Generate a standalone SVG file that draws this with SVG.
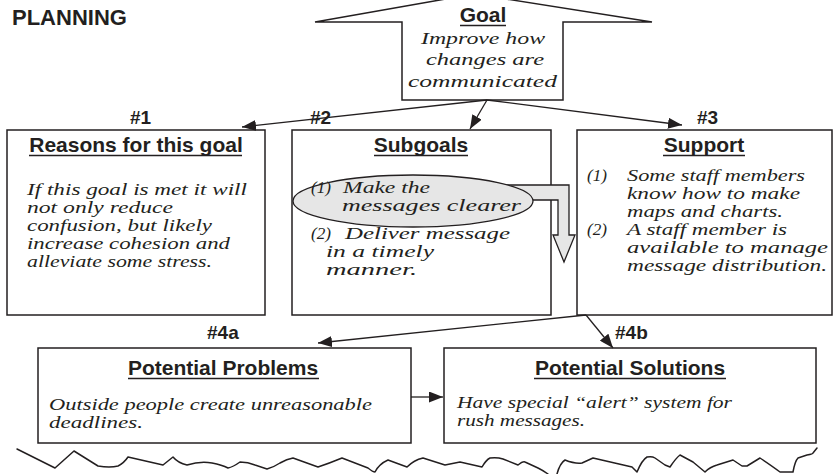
<svg xmlns="http://www.w3.org/2000/svg" width="834" height="474" viewBox="0 0 834 474">
  <style>
    .box { fill: #ffffff; stroke: #231f20; stroke-width: 1.5; }
    .title { font-family: "Liberation Sans", Arial, sans-serif; font-weight: bold; font-size: 22px; fill: #231f20; }
    .hdr { font-family: "Liberation Sans", Arial, sans-serif; font-weight: bold; font-size: 21px; fill: #231f20; text-anchor: middle; }
    .num { font-family: "Liberation Sans", Arial, sans-serif; font-weight: bold; font-size: 19px; fill: #231f20; }
    .ul { stroke: #231f20; stroke-width: 1.6; }
    .hand { font-family: "Liberation Serif", "DejaVu Serif", serif; font-style: italic; font-size: 16px; fill: #231f20; }
    .conn { stroke: #231f20; stroke-width: 1.3; fill: none; }
    .edge { stroke: #231f20; stroke-width: 1.5; fill: none; stroke-linejoin: round; stroke-linecap: round; }
    .shade { fill: #e6e6e6; stroke: #231f20; stroke-width: 1.3; }
  </style>
  <defs>
    <marker id="arrow" markerUnits="userSpaceOnUse" markerWidth="14" markerHeight="11" refX="14" refY="5.5" orient="auto">
      <path d="M0,0 L14,5.5 L0,11 Z" fill="#231f20"/>
    </marker>
  </defs>

  <rect width="834" height="474" fill="#ffffff"/>

  <text class="title" x="12" y="25">PLANNING</text>

  <!-- goal: house-shaped banner -->
  <g id="goal">
    <path class="box" d="M315,22 L474,-6 L652,22 L563,22 L563,100 L402,100 L402,22 Z"/>
    <text class="hdr" x="483" y="22" font-size="20">Goal</text>
    <line class="ul" x1="460" y1="25.5" x2="506" y2="25.5"/>
    <text class="hand" x="421" y="44" font-size="18.5" textLength="124" lengthAdjust="spacingAndGlyphs">Improve how</text>
    <text class="hand" x="426" y="65" font-size="18.5" textLength="118" lengthAdjust="spacingAndGlyphs">changes are</text>
    <text class="hand" x="408" y="87" font-size="18.5" textLength="149" lengthAdjust="spacingAndGlyphs">communicated</text>
  </g>

  <!-- #1 reasons -->
  <g id="reasons">
    <text class="num" x="130" y="124">#1</text>
    <rect class="box" x="7" y="130" width="258" height="185"/>
    <text class="hdr" x="136" y="152">Reasons for this goal</text>
    <line class="ul" x1="29" y1="155.5" x2="242" y2="155.5"/>
    <text class="hand" x="27" y="195" textLength="220" lengthAdjust="spacingAndGlyphs">If this goal is met it will</text>
    <text class="hand" x="27" y="213" textLength="146" lengthAdjust="spacingAndGlyphs">not only reduce</text>
    <text class="hand" x="27" y="231" textLength="185" lengthAdjust="spacingAndGlyphs">confusion, but likely</text>
    <text class="hand" x="27" y="249" textLength="203" lengthAdjust="spacingAndGlyphs">increase cohesion and</text>
    <text class="hand" x="27" y="267" textLength="185" lengthAdjust="spacingAndGlyphs">alleviate some stress.</text>
  </g>

  <!-- #2 subgoals -->
  <g id="subgoals">
    <text class="num" x="310" y="124">#2</text>
    <rect class="box" x="292" y="130" width="259" height="185"/>
    <text class="hdr" x="421" y="152">Subgoals</text>
    <line class="ul" x1="374" y1="155.5" x2="468" y2="155.5"/>
    <!-- block arrow leading out of the first subgoal -->
    <path class="shade" d="M500,185 L569,185 L569,235 L575,235 L564,262 L553,235 L558,235 L558,200 L500,200 Z"/>
    <ellipse class="shade" cx="413" cy="201" rx="120" ry="26"/>
    <text class="hand" x="311" y="193" textLength="20" lengthAdjust="spacingAndGlyphs">(1)</text>
    <text class="hand" x="343" y="193" textLength="87" lengthAdjust="spacingAndGlyphs">Make the</text>
    <text class="hand" x="342" y="211" textLength="179" lengthAdjust="spacingAndGlyphs">messages clearer</text>
    <text class="hand" x="311" y="239" textLength="20" lengthAdjust="spacingAndGlyphs">(2)</text>
    <text class="hand" x="345" y="239" textLength="165" lengthAdjust="spacingAndGlyphs">Deliver message</text>
    <text class="hand" x="326" y="257" textLength="108" lengthAdjust="spacingAndGlyphs">in a timely</text>
    <text class="hand" x="326" y="275" textLength="91" lengthAdjust="spacingAndGlyphs">manner.</text>
  </g>

  <!-- #3 support -->
  <g id="support">
    <text class="num" x="697" y="124">#3</text>
    <rect class="box" x="577" y="130" width="255" height="185"/>
    <text class="hdr" x="704" y="152">Support</text>
    <line class="ul" x1="663" y1="155.5" x2="745" y2="155.5"/>
    <text class="hand" x="587" y="181" textLength="20" lengthAdjust="spacingAndGlyphs">(1)</text>
    <text class="hand" x="627" y="181" textLength="178" lengthAdjust="spacingAndGlyphs">Some staff members</text>
    <text class="hand" x="627" y="199" textLength="173" lengthAdjust="spacingAndGlyphs">know  how to make</text>
    <text class="hand" x="627" y="217" textLength="156" lengthAdjust="spacingAndGlyphs">maps and charts.</text>
    <text class="hand" x="587" y="235" textLength="20" lengthAdjust="spacingAndGlyphs">(2)</text>
    <text class="hand" x="627" y="235" textLength="160" lengthAdjust="spacingAndGlyphs">A staff member is</text>
    <text class="hand" x="627" y="253" textLength="201" lengthAdjust="spacingAndGlyphs">available to manage</text>
    <text class="hand" x="627" y="271" textLength="200" lengthAdjust="spacingAndGlyphs">message distribution.</text>
  </g>

  <!-- #4a potential problems -->
  <g id="problems">
    <text class="num" x="207" y="339">#4a</text>
    <rect class="box" x="38" y="348" width="373" height="95"/>
    <text class="hdr" x="223" y="375">Potential Problems</text>
    <line class="ul" x1="128" y1="378.5" x2="319" y2="378.5"/>
    <text class="hand" x="49" y="410" textLength="323" lengthAdjust="spacingAndGlyphs">Outside people create unreasonable</text>
    <text class="hand" x="49" y="428" textLength="94" lengthAdjust="spacingAndGlyphs">deadlines.</text>
  </g>

  <!-- #4b potential solutions -->
  <g id="solutions">
    <text class="num" x="615" y="339">#4b</text>
    <rect class="box" x="444" y="348" width="372" height="95"/>
    <text class="hdr" x="630" y="375">Potential Solutions</text>
    <line class="ul" x1="534" y1="378.5" x2="726" y2="378.5"/>
    <text class="hand" x="457" y="408" textLength="275" lengthAdjust="spacingAndGlyphs">Have special “alert” system for</text>
    <text class="hand" x="457" y="426" textLength="128" lengthAdjust="spacingAndGlyphs">rush messages.</text>
  </g>

  <!-- connectors -->
  <g id="connectors">
    <path class="conn" d="M487,100 L242,127" marker-end="url(#arrow)"/>
    <path class="conn" d="M487,100 L470,129" marker-end="url(#arrow)"/>
    <path class="conn" d="M487,100 L682,125" marker-end="url(#arrow)"/>
    <path class="conn" d="M586,315 L318,343" marker-end="url(#arrow)"/>
    <path class="conn" d="M586,315 L613,348" marker-end="url(#arrow)"/>
    <path class="conn" d="M411,397 L443,397" marker-end="url(#arrow)"/>
  </g>

  <!-- torn edge along the bottom -->
  <path class="edge" d="M17,449 L55,468 L74,451 L98,466 Q110,468 118,466 Q124,463 128,457 L163,465 L173,457 Q178,463 187,465 Q200,461 212,463 Q222,465 228,468 Q233,467 240,462 Q248,462 255,465 L267,469 Q274,467 280,463 Q287,459 293,458 L318,467 Q330,463 342,458 L368,468 Q373,472 375,472 Q379,464 388,460 L407,467 Q414,460 423,458 L445,465 L460,462 L482,467 Q486,460 490,458 Q497,457 503,459 L518,465 Q523,461 525,462 L538,468 Q544,471 548,474"/>
  <path class="edge" d="M557,474 Q560,463 565,460 Q575,464 582,463 L593,458 L632,467 L637,472 Q642,460 647,457 Q652,456 655,458 L665,465 L670,467 Q676,458 680,455 L693,462 L705,472 Q710,467 717,465 L733,460 L742,466 L747,466 L760,458 Q772,466 780,472 L793,472 Q795,461 798,458 L807,455 Q813,454 813,453 L817,448"/>
</svg>
